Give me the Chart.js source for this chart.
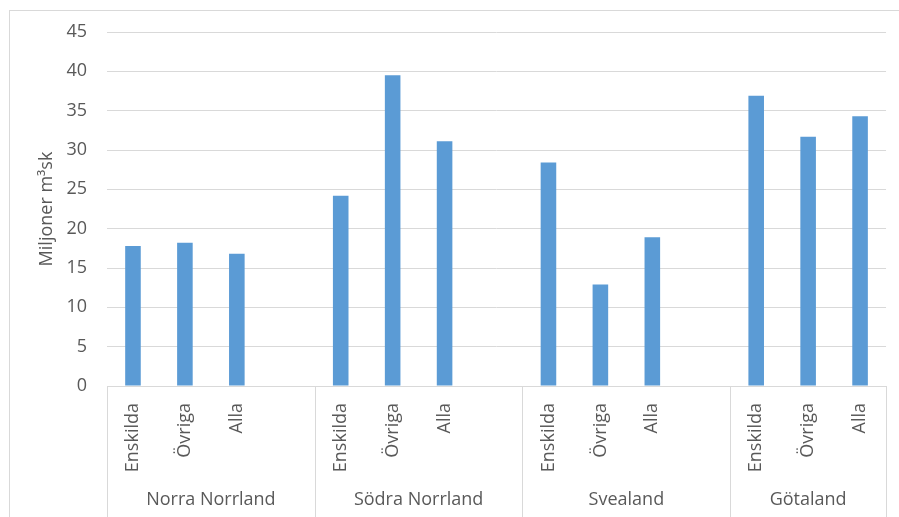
<!DOCTYPE html>
<html>
<head>
<meta charset="utf-8">
<script src="https://cdn.jsdelivr.net/npm/chart.js@4/dist/chart.umd.min.js"></script>
<style>
  html, body { margin: 0; padding: 0; background: #ffffff; }
  canvas { display: block; }
</style>
</head>
<body>
<canvas id="c" width="899" height="517"></canvas>
<script>
// ---- data ----
const groups = ['Norra Norrland', 'Södra Norrland', 'Svealand', 'Götaland'];
const subCategories = ['Enskilda', 'Övriga', 'Alla'];
const enskilda = [17.8, 24.2, 28.4, 36.9];
const ovriga   = [18.2, 39.5, 12.9, 31.7];
const alla     = [16.8, 31.1, 18.9, 34.3];
const yTicks = [0, 5, 10, 15, 20, 25, 30, 35, 40, 45];
const yTitle = 'Miljoner m³sk';

// ---- build flat category list (empty spacer slot after each group except last) ----
const labels = [];
const values = [];
const groupSpans = []; // [startIndex, endIndex] inclusive
const series = [enskilda, ovriga, alla];
groups.forEach((g, gi) => {
  const start = labels.length;
  subCategories.forEach((s, si) => { labels.push(s); values.push(series[si][gi]); });
  if (gi < groups.length - 1) { labels.push(''); values.push(null); }
  groupSpans.push([start, labels.length - 1]);
});

const TEXT = '#595959';
const GRID = '#d9d9d9';
const FONT = { family: '"Open Sans", sans-serif', size: 18 };

const groupPlugin = {
  id: 'groupAxis',
  beforeDraw(chart) {
    const ctx = chart.ctx;
    ctx.save();
    ctx.fillStyle = '#ffffff';
    ctx.fillRect(0, 0, chart.width, chart.height);
    ctx.strokeStyle = GRID;
    ctx.lineWidth = 1;
    ctx.strokeRect(9.5, 10.5, chart.width + 20, chart.height + 20);
    ctx.restore();
  },
  afterDraw(chart) {
    const ctx = chart.ctx;
    const xs = chart.scales.x;
    const area = chart.chartArea;
    const n = labels.length;
    const slot = (area.right - area.left) / n;
    ctx.save();
    ctx.strokeStyle = GRID;
    ctx.lineWidth = 1;
    const bounds = new Set();
    groupSpans.forEach(([a, b]) => {
      bounds.add(xs.getPixelForValue(a) - slot / 2);
      bounds.add(xs.getPixelForValue(b) + slot / 2);
    });
    bounds.forEach(x => {
      const px = Math.round(x) + 0.5;
      ctx.beginPath();
      ctx.moveTo(px, area.bottom);
      ctx.lineTo(px, chart.height);
      ctx.stroke();
    });
    ctx.fillStyle = TEXT;
    ctx.font = FONT.size + 'px ' + FONT.family;
    ctx.textAlign = 'center';
    ctx.textBaseline = 'middle';
    groupSpans.forEach(([a, b], gi) => {
      const x0 = xs.getPixelForValue(a) - slot / 2;
      const x1 = xs.getPixelForValue(b) + slot / 2;
      ctx.fillText(groups[gi], (x0 + x1) / 2, 500);
    });
    ctx.restore();
  }
};

new Chart(document.getElementById('c'), {
  type: 'bar',
  data: {
    labels: labels,
    datasets: [{
      data: values,
      backgroundColor: '#5B9BD5',
      borderWidth: 0,
      barPercentage: 0.3,
      categoryPercentage: 1.0
    }]
  },
  options: {
    responsive: false,
    animation: false,
    devicePixelRatio: 1,
    layout: { padding: { left: 0, right: 10, top: 32, bottom: 0 } },
    plugins: { legend: { display: false }, tooltip: { enabled: false } },
    scales: {
      x: {
        grid: { display: false, drawTicks: false },
        border: { display: true, color: GRID, width: 1 },
        ticks: {
          color: TEXT, font: FONT, minRotation: 90, maxRotation: 90,
          autoSkip: false, padding: 17
        },
        afterFit(s) { s.height = 131; }
      },
      y: {
        min: 0, max: 45,
        afterBuildTicks(s) { s.ticks = yTicks.map(v => ({ value: v })); },
        grid: { color: GRID, drawTicks: false, lineWidth: 1 },
        border: { display: false },
        ticks: { color: TEXT, font: FONT, padding: 20 },
        title: {
          display: true, text: yTitle, color: TEXT, font: FONT,
          padding: { top: 36, bottom: 0 }
        },
        afterFit(s) { s.width = 107; }
      }
    }
  },
  plugins: [groupPlugin]
});
</script>
</body>
</html>
